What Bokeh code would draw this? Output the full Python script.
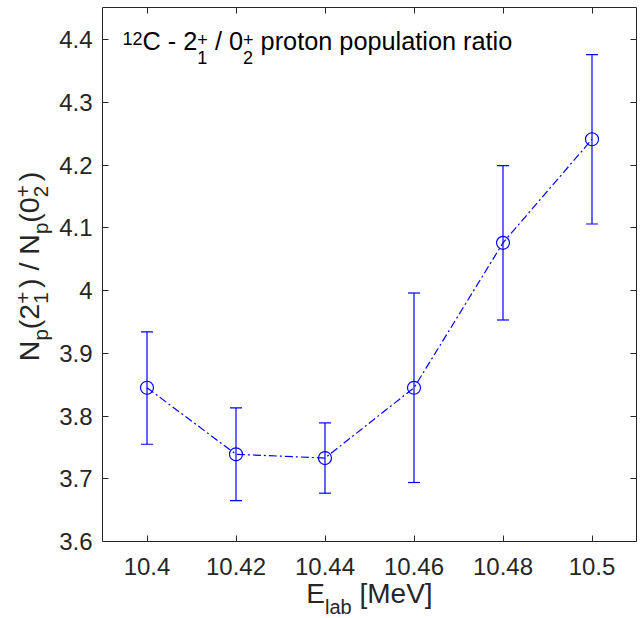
import math
from bokeh.plotting import figure
from bokeh.models import (Range1d, LinearAxis, FixedTicker, Whisker, TeeHead,
                          ColumnDataSource, Label)
from bokeh.embed import file_html
from bokeh.resources import INLINE

# ---------------- data ----------------
energy = [10.40, 10.42, 10.44, 10.46, 10.48, 10.50]
ratio = [3.845, 3.739, 3.733, 3.845, 4.076, 4.241]
ratio_low = [3.755, 3.665, 3.677, 3.694, 3.953, 4.106]
ratio_high = [3.934, 3.813, 3.789, 3.996, 4.199, 4.376]

x_ticks = [10.40, 10.42, 10.44, 10.46, 10.48, 10.50]
x_tick_labels = ["10.4", "10.42", "10.44", "10.46", "10.48", "10.5"]
y_ticks = [3.6, 3.7, 3.8, 3.9, 4.0, 4.1, 4.2, 4.3, 4.4]
y_tick_labels = ["3.6", "3.7", "3.8", "3.9", "4", "4.1", "4.2", "4.3", "4.4"]

# axes box (data limits of the drawn box)
box_x = (10.39, 10.51)
box_y = (3.6, 4.451)

# ---------------- styling ----------------
FONT = "Liberation Sans"
AX = "#262626"
BLUE = "#0000FF"
W_PX, H_PX = 642, 618
# the frame covers the whole canvas; the visible box is drawn by pinned axes
X_PER_PX = 0.02 / 89.0
Y_PER_PX = 0.1 / 62.75
XR = (box_x[0] - 102 * X_PER_PX, box_x[0] + (W_PX - 102) * X_PER_PX)
YR = (box_y[0] - (H_PX - 541) * Y_PER_PX, box_y[0] + 541 * Y_PER_PX)

p = figure(width=W_PX, height=H_PX, output_backend="svg", toolbar_location=None,
           x_range=Range1d(*XR), y_range=Range1d(*YR),
           min_border=0, min_border_left=0, min_border_right=0,
           min_border_top=0, min_border_bottom=0)
p.xgrid.visible = False
p.ygrid.visible = False
p.background_fill_color = "white"
p.border_fill_color = "white"
p.outline_line_color = None


def style_axis(ax, ticks, labels, show_labels, standoff, loc, bounds):
    ax.fixed_location = loc
    ax.bounds = bounds
    ax.ticker = FixedTicker(ticks=ticks)
    ax.major_label_overrides = dict(zip(ticks, labels))
    ax.major_tick_in = 6
    ax.major_tick_out = 0
    ax.minor_tick_in = 0
    ax.minor_tick_out = 0
    ax.major_tick_line_color = AX
    ax.axis_line_color = AX
    ax.axis_line_width = 1
    ax.major_label_text_font = FONT
    ax.major_label_text_font_size = "24px"
    ax.major_label_standoff = standoff
    if show_labels:
        ax.major_label_text_color = AX
    else:
        ax.major_label_text_color = None
        ax.major_label_text_alpha = 0


xb = (box_x[0], box_x[1])
yb = (box_y[0] - 1e-6, box_y[1])
style_axis(p.xaxis[0], x_ticks, x_tick_labels, True, 16, box_y[0], xb)
style_axis(p.yaxis[0], y_ticks, y_tick_labels, True, 10, box_x[0], yb)
top_ax = LinearAxis()
style_axis(top_ax, x_ticks, x_tick_labels, False, 0, box_y[1], xb)
p.add_layout(top_ax, "above")
right_ax = LinearAxis()
style_axis(right_ax, y_ticks, y_tick_labels, False, 0, box_x[1], yb)
p.add_layout(right_ax, "right")

# ---------------- data marks ----------------
src = ColumnDataSource(dict(x=energy, y=ratio, lower=ratio_low, upper=ratio_high))
p.line("x", "y", source=src, line_color=BLUE, line_width=1.2, line_dash="8 3 2 3")
p.add_layout(Whisker(base="x", lower="lower", upper="upper", source=src,
                     line_color=BLUE, line_width=1.2,
                     upper_head=TeeHead(size=12, line_color=BLUE, line_width=1.2),
                     lower_head=TeeHead(size=12, line_color=BLUE, line_width=1.2)))
p.scatter("x", "y", source=src, marker="circle", size=13, fill_color=None,
          line_color=BLUE, line_width=1.2)

# ---------------- rich text (sub/superscripts) ----------------
W = {' ': 278, '(': 333, ')': 333, '+': 584, '-': 333, '/': 278, 'C': 722,
     'E': 667, 'M': 833, 'N': 722, 'V': 667, '[': 278, ']': 278, 'a': 556,
     'b': 556, 'e': 556, 'i': 222, 'l': 222, 'n': 556, 'o': 556, 'p': 556,
     'r': 333, 't': 278, 'u': 556}
for d in "0123456789":
    W[d] = 556

K_BASE = 0.35   # empirical shift between anchor and glyph baseline


def tw(s, size):
    return sum(W.get(c, 556) for c in s) / 1000.0 * size


def layout_rich(segs, F, f, rise, drop, srise, sdrop, pad):
    out = []
    pos = 0.0
    for seg in segs:
        kind = seg[0]
        if kind == "main":
            t = seg[1]
            lead = len(t) - len(t.lstrip(" "))
            trail = len(t) - len(t.rstrip(" "))
            pos += lead * tw(" ", F)
            s = t.strip(" ")
            out.append((s, F, pos, 0.0))
            pos += tw(s, F) + trail * tw(" ", F)
        elif kind == "sup":
            out.append((seg[1], f, pos, rise))
            pos += tw(seg[1], f)
        elif kind == "sub":
            out.append((seg[1], f, pos, -drop))
            pos += tw(seg[1], f)
        elif kind == "stack":
            out.append((seg[1], f, pos, srise))
            out.append((seg[2], f, pos, -sdrop))
            pos += max(tw(seg[1], f), tw(seg[2], f)) + pad
    return out, pos


def place_rich(segs, F, f, rise, drop, srise, sdrop, start, baseline,
               vertical=False, color=AX, center=False, pad=0.0):
    parts, total = layout_rich(segs, F, f, rise, drop, srise, sdrop, pad)
    for text, size, along, perp in parts:
        perp = perp + K_BASE * size
        if vertical:
            s0 = start + total / 2.0 if center else start
            px = baseline - perp
            py = s0 - along
            ang = math.pi / 2
        else:
            s0 = start - total / 2.0 if center else start
            px = s0 + along
            py = baseline - perp
            ang = 0
        p.add_layout(Label(x=XR[0], y=YR[0], x_units="data", y_units="data",
                           x_offset=px, y_offset=H_PX - py,
                           text=text, angle=ang, text_font=FONT,
                           text_font_size=f"{size:.1f}px", text_color=color,
                           text_align="left", text_baseline="alphabetic"))


# title inside the axes
title_segs = [("sup", "12"), ("main", "C - 2"), ("stack", "+", "1"),
              ("main", " / 0"), ("stack", "+", "2"),
              ("main", " proton population ratio")]
place_rich(title_segs, 25.3, 18, 4.5, 11, 4, 14, 122, 49, color="#000000")

# x axis label
xlab_segs = [("main", "E"), ("sub", "lab"), ("main", " [MeV]")]
place_rich(xlab_segs, 28, 20, 8, 10, 8, 10, 369, 603, center=True)

# y axis label
ylab_segs = [("main", "N"), ("sub", "p"), ("main", "(2"), ("stack", "+", "1"),
             ("main", ") / N"), ("sub", "p"), ("main", "(0"), ("stack", "+", "2"),
             ("main", ")")]
place_rich(ylab_segs, 28.5, 20.5, 8, 9, 8, 10, 266, 38, vertical=True,
           center=True, pad=4)

open("out.html", "w").write(file_html(p, INLINE))
